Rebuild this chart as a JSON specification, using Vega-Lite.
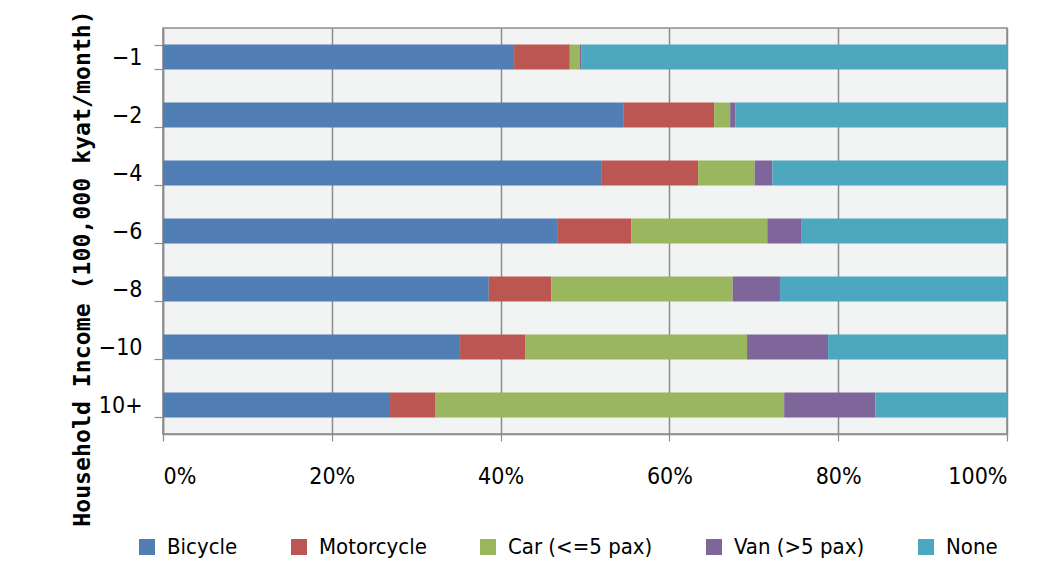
{
  "$schema": "https://vega.github.io/schema/vega-lite/v6.json",
  "width": 844,
  "height": 406,
  "autosize": {"type": "none"},
  "padding": {"left": 163, "top": 28, "right": 41, "bottom": 140},
  "background": "white",
  "data": {
    "values": [
      {"income": "−1", "mode": "Bicycle", "k": 1, "share": 41.6},
      {"income": "−1", "mode": "Motorcycle", "k": 2, "share": 6.6},
      {"income": "−1", "mode": "Car (<=5 pax)", "k": 3, "share": 1.2},
      {"income": "−1", "mode": "Van (>5 pax)", "k": 4, "share": 0.2},
      {"income": "−1", "mode": "None", "k": 5, "share": 50.4},
      {"income": "−2", "mode": "Bicycle", "k": 1, "share": 54.6},
      {"income": "−2", "mode": "Motorcycle", "k": 2, "share": 10.7},
      {"income": "−2", "mode": "Car (<=5 pax)", "k": 3, "share": 1.9},
      {"income": "−2", "mode": "Van (>5 pax)", "k": 4, "share": 0.6},
      {"income": "−2", "mode": "None", "k": 5, "share": 32.2},
      {"income": "−4", "mode": "Bicycle", "k": 1, "share": 52.0},
      {"income": "−4", "mode": "Motorcycle", "k": 2, "share": 11.4},
      {"income": "−4", "mode": "Car (<=5 pax)", "k": 3, "share": 6.7},
      {"income": "−4", "mode": "Van (>5 pax)", "k": 4, "share": 2.1},
      {"income": "−4", "mode": "None", "k": 5, "share": 27.8},
      {"income": "−6", "mode": "Bicycle", "k": 1, "share": 46.7},
      {"income": "−6", "mode": "Motorcycle", "k": 2, "share": 8.8},
      {"income": "−6", "mode": "Car (<=5 pax)", "k": 3, "share": 16.1},
      {"income": "−6", "mode": "Van (>5 pax)", "k": 4, "share": 4.0},
      {"income": "−6", "mode": "None", "k": 5, "share": 24.4},
      {"income": "−8", "mode": "Bicycle", "k": 1, "share": 38.6},
      {"income": "−8", "mode": "Motorcycle", "k": 2, "share": 7.4},
      {"income": "−8", "mode": "Car (<=5 pax)", "k": 3, "share": 21.5},
      {"income": "−8", "mode": "Van (>5 pax)", "k": 4, "share": 5.6},
      {"income": "−8", "mode": "None", "k": 5, "share": 26.9},
      {"income": "−10", "mode": "Bicycle", "k": 1, "share": 35.2},
      {"income": "−10", "mode": "Motorcycle", "k": 2, "share": 7.7},
      {"income": "−10", "mode": "Car (<=5 pax)", "k": 3, "share": 26.3},
      {"income": "−10", "mode": "Van (>5 pax)", "k": 4, "share": 9.6},
      {"income": "−10", "mode": "None", "k": 5, "share": 21.2},
      {"income": "10+", "mode": "Bicycle", "k": 1, "share": 26.9},
      {"income": "10+", "mode": "Motorcycle", "k": 2, "share": 5.4},
      {"income": "10+", "mode": "Car (<=5 pax)", "k": 3, "share": 41.3},
      {"income": "10+", "mode": "Van (>5 pax)", "k": 4, "share": 10.8},
      {"income": "10+", "mode": "None", "k": 5, "share": 15.6}
    ]
  },
  "mark": {"type": "bar"},
  "encoding": {
    "y": {
      "field": "income",
      "type": "nominal",
      "sort": null,
      "scale": {"paddingInner": 0.57, "paddingOuter": 0.285},
      "axis": {
        "title": "Household Income (100,000 kyat/month)",
        "titleFont": "DejaVu Sans Mono",
        "titleFontWeight": "bold",
        "titleFontSize": 23.2,
        "titleColor": "black",
        "titleAngle": -90,
        "titleX": -81,
        "titleY": 240,
        "titleAlign": "center",
        "titleBaseline": "middle",
        "labelFont": "'DejaVu Sans Condensed', 'Liberation Sans', sans-serif",
        "labelFontSize": 23,
        "labelColor": "black",
        "labelPadding": 12,
        "tickBand": "extent",
        "tickSize": 9,
        "tickColor": "#8c8c8c",
        "tickWidth": 1.2,
        "domainColor": "#8c8c8c",
        "domainWidth": 1.5
      }
    },
    "x": {
      "field": "share",
      "type": "quantitative",
      "stack": "normalize",
      "scale": {"domain": [0, 1]},
      "axis": {
        "title": null,
        "format": ".0%",
        "values": [0, 0.2, 0.4, 0.6, 0.8, 1],
        "labelFont": "'DejaVu Sans Condensed', 'Liberation Sans', sans-serif",
        "labelFontSize": 23,
        "labelColor": "black",
        "labelPadding": 24,
        "tickSize": 7,
        "tickColor": "#8c8c8c",
        "tickWidth": 1.2,
        "domainColor": "#8c8c8c",
        "domainWidth": 1.5,
        "grid": true,
        "gridColor": "#8c8c8c",
        "gridWidth": 1.5
      }
    },
    "color": {
      "field": "mode",
      "type": "nominal",
      "sort": ["Bicycle", "Motorcycle", "Car (<=5 pax)", "Van (>5 pax)", "None"],
      "scale": {
        "domain": ["Bicycle", "Motorcycle", "Car (<=5 pax)", "Van (>5 pax)", "None"],
        "range": ["#507eb5", "#bb5653", "#9ab65e", "#7e659a", "#4da7be"]
      },
      "legend": {
        "title": null,
        "orient": "none",
        "direction": "horizontal",
        "legendX": -27,
        "legendY": 508,
        "symbolType": "square",
        "symbolSize": 256,
        "symbolStrokeWidth": 0,
        "labelFont": "'DejaVu Sans Condensed', 'Liberation Sans', sans-serif",
        "labelFontSize": 22,
        "labelColor": "black",
        "labelOffset": 9,
        "columnPadding": 50
      }
    },
    "order": {"field": "k", "type": "quantitative"}
  },
  "config": {
    "view": {"fill": "#f2f4f3", "stroke": "#8c8c8c", "strokeWidth": 1.5}
  }
}
